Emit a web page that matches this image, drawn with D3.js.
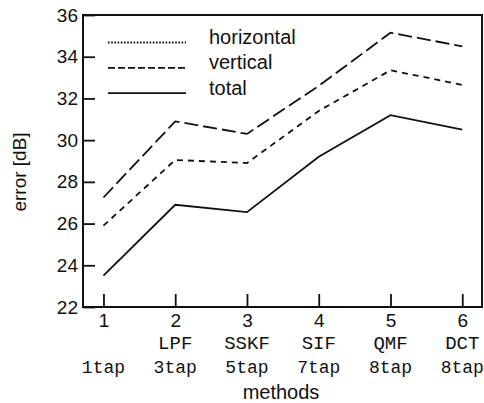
<!DOCTYPE html>
<html>
<head>
<meta charset="utf-8">
<script src="https://cdn.jsdelivr.net/npm/d3@7"></script>
<style>
  body { margin: 0; background: #fff; }
  text { fill: #111; }
</style>
</head>
<body>
<div id="chart"></div>
<script>
// DATA
var methods = [1, 2, 3, 4, 5, 6];
var methodNames = ["", "LPF", "SSKF", "SIF", "QMF", "DCT"];
var tapLabels = ["1tap", "3tap", "5tap", "7tap", "8tap", "8tap"];
var yTicks = [22, 24, 26, 28, 30, 32, 34, 36];

var horizontalErr = [25.9, 29.05, 28.9, 31.4, 33.35, 32.65];
var verticalErr = [27.25, 30.9, 30.3, 32.6, 35.15, 34.5];
var totalErr = [23.5, 26.9, 26.55, 29.2, 31.2, 30.5];

var legendNames = ["horizontal", "vertical", "total"];

// SIZING
var W = 484, H = 403;
var margin = { top: 15, right: 2, bottom: 96, left: 83 };
var width = W - margin.left - margin.right;
var height = H - margin.top - margin.bottom;

var svg = d3.select("#chart").append("svg")
    .attr("width", W)
    .attr("height", H);

var g = svg.append("g")
    .attr("transform", "translate(" + margin.left + "," + margin.top + ")");

var x = d3.scaleLinear().domain([0.715, 6.275]).range([0, width]);
var y = d3.scaleLinear().domain([22, 36]).range([height, 0]);

// AXES (ticks point inward)
var yAxis = g.append("g")
    .call(d3.axisLeft(y).tickValues(yTicks).tickSize(-12).tickPadding(5));
var xAxis = g.append("g")
    .attr("transform", "translate(0," + height + ")")
    .call(d3.axisBottom(x).tickValues(methods).tickFormat(d3.format("d"))
        .tickSize(-13).tickPadding(7));

[yAxis, xAxis].forEach(function (a) {
    a.select(".domain").remove();
    a.selectAll("line").attr("stroke", "#111").attr("stroke-width", 1.8);
    a.selectAll("text")
        .style("font-family", "'Liberation Sans', Arial, sans-serif")
        .style("font-size", "19px")
        .attr("fill", "#111");
});

// frame
g.append("rect")
    .attr("x", 0).attr("y", 0)
    .attr("width", width).attr("height", height)
    .attr("fill", "none")
    .attr("stroke", "#111")
    .attr("stroke-width", 2);

// method names + taps under the numbers
g.selectAll(".mname").data(methods).enter().append("text")
    .attr("class", "mname")
    .attr("x", function (d) { return x(d); })
    .attr("y", 349 - margin.top)
    .attr("text-anchor", "middle")
    .style("font-family", "'Liberation Mono', 'Courier New', monospace")
    .style("font-size", "19px")
    .text(function (d, i) { return methodNames[i]; });

g.selectAll(".tap").data(methods).enter().append("text")
    .attr("class", "tap")
    .attr("x", function (d) { return x(d); })
    .attr("y", 372.5 - margin.top)
    .attr("text-anchor", "middle")
    .style("font-family", "'Liberation Mono', 'Courier New', monospace")
    .style("font-size", "18px")
    .text(function (d, i) { return tapLabels[i]; });

// axis titles
svg.append("text")
    .attr("x", 281)
    .attr("y", 399)
    .attr("text-anchor", "middle")
    .style("font-family", "'Liberation Sans', Arial, sans-serif")
    .style("font-size", "20px")
    .text("methods");

svg.append("text")
    .attr("transform", "translate(26,172) rotate(-90)")
    .attr("text-anchor", "middle")
    .style("font-family", "'Liberation Sans', Arial, sans-serif")
    .style("font-size", "19px")
    .text("error [dB]");

// LINES
var line = d3.line()
    .x(function (d, i) { return x(methods[i]); })
    .y(function (d) { return y(d); });

var series = [
    { values: verticalErr, dash: "14,5" },
    { values: horizontalErr, dash: "6,5" },
    { values: totalErr, dash: null }
];

g.selectAll(".series").data(series).enter().append("path")
    .attr("class", "series")
    .attr("d", function (d) { return line(d.values); })
    .attr("fill", "none")
    .attr("stroke", "#111")
    .attr("stroke-width", 1.8)
    .attr("stroke-dasharray", function (d) { return d.dash; });

// LEGEND
var legendDash = ["1.6,1.6", "7,3", null];
var legend = svg.append("g");
legend.selectAll("line").data(legendNames).enter().append("line")
    .attr("x1", 108).attr("x2", 186)
    .attr("y1", function (d, i) { return 42.5 + i * 25.3; })
    .attr("y2", function (d, i) { return 42.5 + i * 25.3; })
    .attr("stroke", "#111")
    .attr("stroke-width", 1.8)
    .attr("stroke-dasharray", function (d, i) { return legendDash[i]; });

legend.selectAll("text").data(legendNames).enter().append("text")
    .attr("x", 209)
    .attr("y", function (d, i) { return 43.5 + i * 25.6; })
    .style("font-family", "'Liberation Sans', Arial, sans-serif")
    .style("font-size", "20px")
    .text(function (d) { return d; });
</script>
</body>
</html>
